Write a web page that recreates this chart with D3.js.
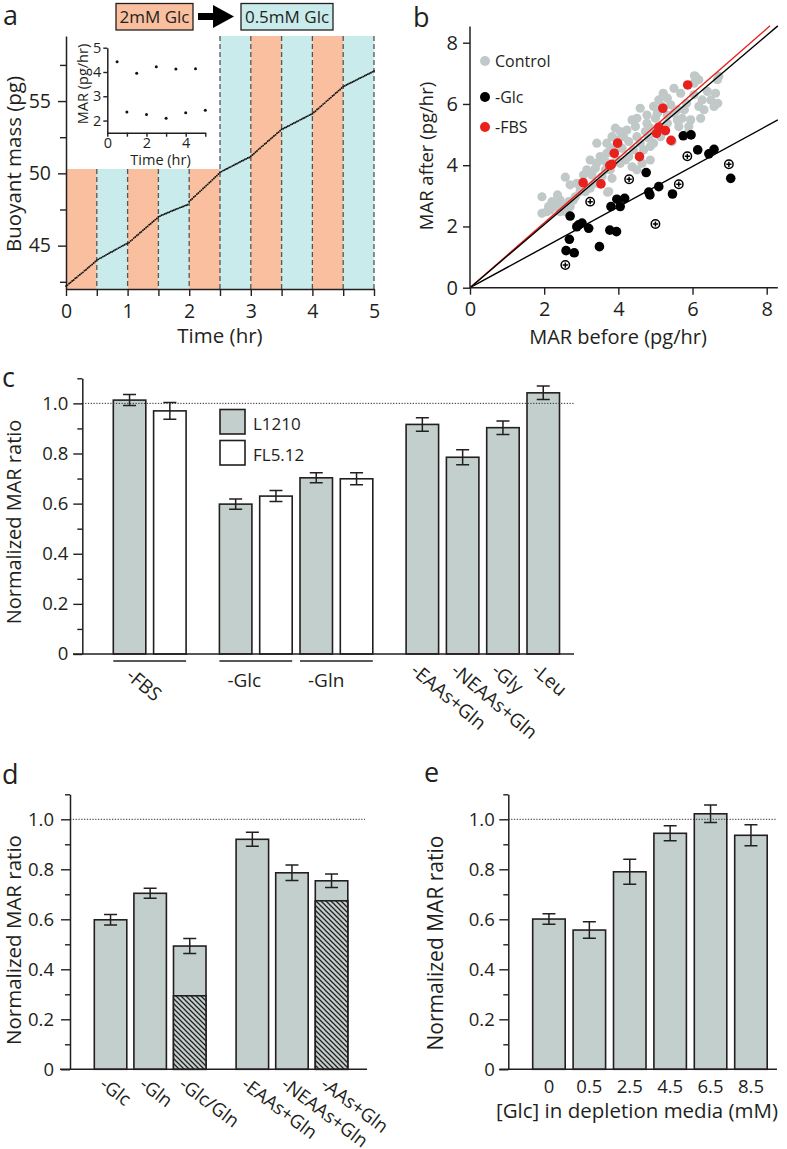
<!DOCTYPE html>
<html>
<head>
<meta charset="utf-8">
<script src="https://cdn.jsdelivr.net/npm/d3@7/dist/d3.min.js"></script>
<style>
html,body{margin:0;padding:0;background:#fff;}
svg{display:block;}
text{font-family:"Open Sans",sans-serif;fill:#231f20;}
</style>
</head>
<body>
<svg id="fig" width="787" height="1149"></svg>
<script>
// ================= DATA =================
// ---- panel a ----
const segmentEdges = [0,0.5,1,1.5,2,2.5,3,3.5,4,4.5,5];
const segmentMedia = ["2mM Glc","0.5mM Glc","2mM Glc","0.5mM Glc","2mM Glc","0.5mM Glc","2mM Glc","0.5mM Glc","2mM Glc","0.5mM Glc"];
const massSampleStep = 0.025; // hr between buoyant-mass samples
const buoyantMass = [
 42.20,42.27,42.38,42.45,42.55,42.62,42.74,42.80,42.91,42.99,43.08,43.15,43.27,43.33,43.44,43.52,43.62,43.70,43.80,43.90,
 44.00,44.05,44.12,44.17,44.24,44.29,44.36,44.41,44.47,44.54,44.58,44.65,44.71,44.76,44.83,44.88,44.95,45.00,45.06,45.12,
 45.15,45.22,45.33,45.40,45.52,45.60,45.70,45.77,45.89,45.96,46.07,46.15,46.25,46.33,46.44,46.51,46.62,46.70,46.80,46.88,
 47.00,47.04,47.10,47.13,47.19,47.22,47.28,47.31,47.37,47.41,47.45,47.50,47.54,47.58,47.63,47.66,47.71,47.75,47.79,47.83,
 48.05,48.16,48.24,48.36,48.44,48.56,48.64,48.75,48.84,48.95,49.04,49.15,49.24,49.35,49.44,49.55,49.64,49.75,49.84,49.95,
 50.08,50.12,50.19,50.23,50.30,50.34,50.41,50.45,50.52,50.56,50.63,50.67,50.74,50.78,50.85,50.89,50.96,51.00,51.06,51.10,
 51.18,51.27,51.36,51.46,51.55,51.66,51.74,51.85,51.92,52.03,52.10,52.22,52.29,52.40,52.48,52.58,52.66,52.77,52.84,52.95,
 53.04,53.08,53.15,53.19,53.26,53.30,53.37,53.41,53.48,53.52,53.59,53.63,53.70,53.74,53.81,53.85,53.92,53.96,54.03,54.07,
 54.12,54.23,54.30,54.42,54.49,54.60,54.68,54.79,54.86,54.98,55.05,55.16,55.24,55.35,55.42,55.54,55.61,55.72,55.80,55.90,
 56.00,56.05,56.11,56.16,56.22,56.27,56.32,56.37,56.43,56.48,56.54,56.59,56.64,56.69,56.75,56.80,56.86,56.91,56.96,57.02,57.08
];
const aXTickMarks = [0,0.5,1,1.5,2,2.5,3,3.5,4,4.5,5];
const aXTickLabels = [0,1,2,3,4,5];
const aYTickMarks = [42.5,45,47.5,50,52.5,55,57.5];
const aYTickLabels = [45,50,55];
const insetTime = [0.5,1,1.5,2,2.5,3,3.5,4,4.5,5];
const insetMAR  = [4.42,2.35,3.95,2.25,4.22,2.10,4.12,2.32,4.13,2.42];
const insetXTicks = [0,1,2,3,4,5];
const insetXTickLabels = [0,2,4];
const insetYTicks = [2,3,4,5];

// ---- panel b ----
const controlPts = [
 [1.94,2.97],[1.94,2.43],[2.12,2.65],[2.21,2.81],[2.36,3.03],[2.43,2.86],[2.52,2.65],[2.59,2.48],[2.66,2.81],[2.84,2.97],
 [2.97,3.14],[2.57,3.61],[2.70,3.36],[2.88,3.41],[3.06,3.68],[3.15,3.85],[3.29,3.68],[3.38,3.90],[3.42,4.06],[3.24,4.17],
 [3.51,4.28],[3.65,4.12],[3.69,4.39],[3.74,3.14],[3.83,3.57],[3.87,4.55],[3.96,4.83],[3.92,5.21],[4.05,5.10],[4.14,4.93],
 [4.23,5.15],[4.28,4.77],[4.37,5.48],[4.46,5.26],[4.50,4.93],[4.59,4.72],[4.68,4.50],[4.73,5.10],[4.77,5.37],[4.82,4.88],
 [4.86,4.61],[4.95,4.72],[5.00,5.53],[5.05,5.70],[5.18,5.92],[5.32,6.19],[5.21,6.35],[5.41,5.97],[5.50,5.70],[5.59,5.81],
 [5.63,5.26],[5.72,5.53],[5.78,5.81],[5.84,6.02],[6.04,6.30],[6.08,6.90],[6.17,5.92],[6.26,6.13],[6.31,5.81],[6.40,6.41],
 [6.49,6.13],[6.58,5.92],[6.62,6.35],[6.71,6.90],[6.68,6.02],[5.95,5.48],[5.86,5.04],[5.32,5.37],[5.14,4.93],[5.45,4.77],
 [5.59,5.48],[4.28,4.28],[4.19,4.17],[4.05,4.06],[4.37,3.95],[4.50,3.85],[4.64,4.06],[4.41,4.50],[3.78,3.85],[3.65,3.85],
 [3.56,3.63],[3.38,3.41],[3.24,3.25],[3.11,3.14],[2.97,3.30],[2.79,2.86],[2.70,2.65],[2.43,2.48],[2.16,2.54],[2.07,2.48],
 [2.30,2.65],[3.42,4.72],[3.69,4.72],[4.10,4.55],[4.77,5.64],[4.95,5.92],[5.09,6.13],[4.86,5.21],[4.50,5.53],[4.59,5.86],
 [6.04,6.68],[6.17,6.79],[5.68,6.35],[5.50,6.51],[5.32,5.64],[5.90,5.26],[6.22,5.53],[5.14,5.26],[3.96,4.17],[3.83,4.93],
 [3.78,4.50],[6.67,6.79],[6.05,6.92],[4.86,4.17],[3.71,3.12]
];
const glcPts = [
 [2.59,1.21],[2.81,1.14],[2.68,1.58],[2.70,2.34],[2.93,2.05],[3.02,2.11],[2.88,1.99],[3.20,1.94],[3.49,1.34],[3.77,1.88],
 [3.95,1.83],[3.80,2.65],[4.05,2.65],[3.96,2.89],[4.17,2.92],[4.75,3.76],[4.85,3.03],[4.82,3.12],[5.09,3.30],[5.46,3.06],
 [5.75,4.96],[5.96,4.99],[6.14,4.50],[6.44,4.37],[6.58,4.52],[7.03,3.57]
];
const glcCrossPts = [[2.57,0.74],[3.24,2.81],[4.29,3.54],[5.00,2.08],[5.63,3.38],[5.86,4.29],[6.98,4.03]];
const fbsPts = [
 [3.05,3.43],[3.53,3.39],[3.77,3.99],[3.82,4.03],[3.89,4.39],[3.98,4.72],[4.57,4.28],[5.03,5.04],[5.09,5.24],[5.27,5.13],
 [5.42,4.81],[5.20,5.86],[5.87,6.62]
];
const fitControlSlope = 1.03;
const fitFbsSlope = 1.057;
const fitGlcSlope = 0.66;
const bTicks = [0,2,4,6,8];
const bLegend = ["Control","-Glc","-FBS"];

// ---- panel c ----
const cCategories = ["-FBS","-Glc","-Gln","-EAAs+Gln","-NEAAs+Gln","-Gly","-Leu"];
const cGroupOf    = [0,1,1,2,2,2,2];
const cL1210      = [1.013,0.598,0.703,0.916,0.785,0.903,1.042];
const cL1210Err   = [0.022,0.020,0.020,0.027,0.030,0.027,0.027];
const cFL512      = [0.970,0.630,0.699,null,null,null,null];
const cFL512Err   = [0.033,0.022,0.024,null,null,null,null];
const cSeriesNames = ["L1210","FL5.12"];

// ---- panel d ----
const dCategories = ["-Glc","-Gln","-Glc/Gln","-EAAs+Gln","-NEAAs+Gln","-AAs+Gln"];
const dGroupOf    = [0,0,0,1,1,1];
const dValues     = [0.598,0.704,0.493,0.920,0.786,0.754];
const dErr        = [0.021,0.020,0.030,0.028,0.031,0.027];
const dHatched    = [null,null,0.294,null,null,0.674];

// ---- panel e ----
const eCategories = ["0","0.5","2.5","4.5","6.5","8.5"];
const eValues     = [0.601,0.557,0.790,0.944,1.022,0.936];
const eErr        = [0.021,0.033,0.050,0.030,0.035,0.042];

const ratioMajorTicks = [0,0.2,0.4,0.6,0.8,1.0];
const ratioMinorTicks = [0.1,0.3,0.5,0.7,0.9,1.1];

// ================= DRAWING =================
const svg = d3.select("#fig");
const INK = "#231f20";
const PEACH = "#F9BF9F", AQUA = "#C9EBEB";
const BAR_GRAY = "#C3CFCD";
const GRAY_PT = "#C0C9C7";
const RED = "#E8211D";
const FONT = '"Open Sans", sans-serif';

const defs = svg.append("defs");
const pat = defs.append("pattern").attr("id","hatch").attr("patternUnits","userSpaceOnUse")
  .attr("width",5).attr("height",5);
pat.append("rect").attr("width",5).attr("height",5).attr("fill",BAR_GRAY);
pat.append("path").attr("d","M-1,-1L6,6M-1,4L1,6M4,-1L6,1").attr("stroke",INK).attr("stroke-width",1.25);

function txt(g, x, y, s, size, anchor){
  return g.append("text").attr("x",x).attr("y",y).attr("font-size",size)
    .attr("text-anchor",anchor||"start").text(s);
}
function vtxt(g, x, y, s, size){
  return g.append("text").attr("transform",`translate(${x},${y}) rotate(-90)`)
    .attr("font-size",size).attr("text-anchor","middle").text(s);
}
function styleAxis(sel, size){
  sel.attr("font-family",FONT).attr("font-size",size).attr("color",INK);
  sel.selectAll(".domain").attr("stroke-width",1.5);
  sel.selectAll(".tick line").attr("stroke-width",1.4);
  sel.selectAll(".tick text").attr("fill",INK);
  return sel;
}

// ---------- Panel a ----------
(function(){
  const g = svg.append("g");
  const ax = d3.scaleLinear().domain([0,5]).range([66,374]);
  const ay = d3.scaleLinear().domain([42,59.5]).range([289,36]);
  const insetClearMass = 50.3, insetClearUntil = 2.5;
  segmentMedia.forEach((m,i)=>{
    const t0 = segmentEdges[i], t1 = segmentEdges[i+1];
    const top = t1 <= insetClearUntil ? ay(insetClearMass) : ay.range()[1];
    g.append("rect").attr("x",ax(t0)).attr("width",ax(t1)-ax(t0))
      .attr("y",top).attr("height",ay.range()[0]-top)
      .attr("fill", m==="2mM Glc" ? PEACH : AQUA);
  });
  segmentEdges.slice(1).forEach(t=>{
    const top = t < insetClearUntil ? ay(insetClearMass) : ay.range()[1];
    g.append("line").attr("x1",ax(t)).attr("x2",ax(t)).attr("y1",top).attr("y2",ay.range()[0])
      .attr("stroke","#555").attr("stroke-width",1.3).attr("stroke-dasharray","5,3");
  });
  g.selectAll("circle.mass").data(buoyantMass).join("circle").attr("class","mass")
    .attr("cx",(d,i)=>ax(i*massSampleStep)).attr("cy",d=>ay(d)).attr("r",0.95).attr("fill","#111");

  const xa = g.append("g").attr("transform",`translate(0,${ay.range()[0]})`)
    .call(d3.axisBottom(ax).tickValues(aXTickMarks).tickSize(7).tickSizeOuter(0).tickPadding(8)
      .tickFormat(d=>aXTickLabels.includes(d)?d:""));
  styleAxis(xa,19.5);
  const ya = g.append("g").attr("transform",`translate(${ax(0)},0)`)
    .call(d3.axisLeft(ay).tickValues(aYTickMarks).tickSize(8).tickSizeOuter(0).tickPadding(7)
      .tickFormat(d=>aYTickLabels.includes(d)?d:""));
  styleAxis(ya,19.5);
  ya.selectAll(".tick").filter(d=>!aYTickLabels.includes(d)).select("line").attr("x2",-6);

  txt(g,220,343,"Time (hr)",20.5,"middle");
  vtxt(g,21,164,"Buoyant mass (pg)",20.5);
  txt(g,3,25,"a",27);

  // inset
  const ix = d3.scaleLinear().domain([0,5]).range([107.3,205.3]);
  const iy = d3.scaleLinear().domain([1.5,5]).range([132.7,47.7]);
  const ixa = g.append("g").attr("transform",`translate(0,${iy.range()[0]})`)
    .call(d3.axisBottom(ix).tickValues(insetXTicks).tickSize(4).tickSizeOuter(0).tickPadding(1)
      .tickFormat(d=>insetXTickLabels.includes(d)?d3.format("d")(d):""));
  styleAxis(ixa,14.5);
  const iya = g.append("g").attr("transform",`translate(${ix(0)},0)`)
    .call(d3.axisLeft(iy).tickValues(insetYTicks).tickSize(4).tickSizeOuter(0).tickPadding(2)
      .tickFormat(d3.format("d")));
  styleAxis(iya,14.5);
  g.selectAll("circle.ins").data(insetMAR).join("circle").attr("class","ins")
    .attr("cx",(d,i)=>ix(insetTime[i])).attr("cy",d=>iy(d)).attr("r",1.5).attr("fill","#111");
  txt(g,160.5,165,"Time (hr)",14.5,"middle");
  vtxt(g,88,84,"MAR (pg/hr)",14.5);

  // header
  const hdr = [{label:segmentMedia[0],x0:116,x1:193,fill:PEACH},{label:segmentMedia[1],x0:241,x1:333,fill:AQUA}];
  hdr.forEach(h=>{
    g.append("rect").attr("x",h.x0).attr("y",3.5).attr("width",h.x1-h.x0).attr("height",26.5)
      .attr("fill",h.fill).attr("stroke",INK).attr("stroke-width",1.3);
    txt(g,(h.x0+h.x1)/2,23,h.label,17,"middle");
  });
  g.append("rect").attr("x",198).attr("y",13).attr("width",17).attr("height",7).attr("fill","#000");
  g.append("path").attr("d","M213,5L234,16.5L213,28Z").attr("fill","#000");
})();

// ---------- Panel b ----------
(function(){
  const g = svg.append("g");
  const bx = d3.scaleLinear().domain([0,8]).range([470,766.7]);
  const by = d3.scaleLinear().domain([0,8]).range([287.7,42.7]);
  const xEnd = 8.3, yEnd = 8.53;

  g.selectAll("circle.ctl").data(controlPts).join("circle").attr("class","ctl")
    .attr("cx",d=>bx(d[0])).attr("cy",d=>by(d[1])).attr("r",4.6).attr("fill",GRAY_PT);

  const line = d3.line().x(d=>bx(d[0])).y(d=>by(d[1]));
  g.append("path").attr("d",line([[0,0],[xEnd,fitGlcSlope*xEnd]])).attr("stroke","#000").attr("stroke-width",1.4).attr("fill","none");
  g.append("path").attr("d",line([[0,0],[yEnd/fitFbsSlope+0.02,fitFbsSlope*(yEnd/fitFbsSlope+0.02)]])).attr("stroke",RED).attr("stroke-width",1.4).attr("fill","none");
  g.append("path").attr("d",line([[0,0],[xEnd,fitControlSlope*xEnd]])).attr("stroke","#000").attr("stroke-width",1.4).attr("fill","none");

  g.selectAll("circle.glc").data(glcPts).join("circle").attr("class","glc")
    .attr("cx",d=>bx(d[0])).attr("cy",d=>by(d[1])).attr("r",4.8).attr("fill","#000");
  g.selectAll("circle.fbs").data(fbsPts).join("circle").attr("class","fbs")
    .attr("cx",d=>bx(d[0])).attr("cy",d=>by(d[1])).attr("r",4.8).attr("fill",RED);
  const cr = g.selectAll("g.cross").data(glcCrossPts).join("g").attr("class","cross")
    .attr("transform",d=>`translate(${bx(d[0])},${by(d[1])})`);
  cr.append("circle").attr("r",4.2).attr("fill","#fff").attr("stroke","#000").attr("stroke-width",1.5);
  cr.append("path").attr("d","M-2.6,0H2.6M0,-2.6V2.6").attr("stroke","#000").attr("stroke-width",1.5);

  // axes
  g.append("line").attr("x1",bx(0)).attr("x2",bx(xEnd)).attr("y1",by(0)).attr("y2",by(0)).attr("stroke",INK).attr("stroke-width",1.5);
  g.append("line").attr("x1",bx(0)).attr("x2",bx(0)).attr("y1",by(0)).attr("y2",by(yEnd)).attr("stroke",INK).attr("stroke-width",1.5);
  const xa = g.append("g").attr("transform",`translate(0,${by(0)})`)
    .call(d3.axisBottom(bx).tickValues(bTicks).tickSize(7).tickSizeOuter(0).tickPadding(7));
  styleAxis(xa,20); xa.select(".domain").remove();
  const ya = g.append("g").attr("transform",`translate(${bx(0)},0)`)
    .call(d3.axisLeft(by).tickValues(bTicks).tickSize(7).tickSizeOuter(0).tickPadding(5));
  styleAxis(ya,20); ya.select(".domain").remove();

  txt(g,618,344,"MAR before (pg/hr)",20,"middle");
  vtxt(g,433,156,"MAR after (pg/hr)",18.5);
  txt(g,413,27,"b",27);

  const legColors = [GRAY_PT,"#000",RED];
  const legY = [61,97,127];
  bLegend.forEach((s,i)=>{
    g.append("circle").attr("cx",485).attr("cy",legY[i]).attr("r",5).attr("fill",legColors[i]);
    txt(g,495,legY[i]+6,s,16);
  });
})();

// ---------- bar panel helper ----------
function barPanel(cfg){
  const g = svg.append("g");
  const y = d3.scaleLinear().domain([0,1.1]).range([cfg.y0,cfg.yTop]);
  cfg.bars.forEach(b=>{
    g.append("rect").attr("x",b.x).attr("y",y(b.v)).attr("width",cfg.barW).attr("height",y(0)-y(b.v))
      .attr("fill",b.fill).attr("stroke",INK).attr("stroke-width",1.6);
    if(b.hatch!=null){
      g.append("rect").attr("x",b.x).attr("y",y(b.hatch)).attr("width",cfg.barW).attr("height",y(0)-y(b.hatch))
        .attr("fill","url(#hatch)").attr("stroke",INK).attr("stroke-width",1.6);
    }
    const cx = b.x+cfg.barW/2;
    g.append("path").attr("d",`M${cx},${y(b.v+b.e)}V${y(b.v-b.e)}M${cx-6.5},${y(b.v+b.e)}H${cx+6.5}M${cx-6.5},${y(b.v-b.e)}H${cx+6.5}`)
      .attr("stroke",INK).attr("stroke-width",1.5).attr("fill","none");
  });
  g.append("line").attr("x1",cfg.axisX).attr("x2",cfg.refRight).attr("y1",y(1)).attr("y2",y(1))
    .attr("stroke","#333").attr("stroke-width",1).attr("stroke-dasharray","1.3,1.5");
  g.append("line").attr("x1",cfg.xLeft).attr("x2",cfg.xRight).attr("y1",y(0)).attr("y2",y(0))
    .attr("stroke",INK).attr("stroke-width",1.6);
  const ya = g.append("g").attr("transform",`translate(${cfg.axisX},0)`)
    .call(d3.axisLeft(y).tickValues(ratioMajorTicks).tickSize(9).tickSizeOuter(0).tickPadding(cfg.pad)
      .tickFormat(d=>d===0?"0":d3.format(".1f")(d)));
  styleAxis(ya,18.5);
  const ym = g.append("g").attr("transform",`translate(${cfg.axisX},0)`)
    .call(d3.axisLeft(y).tickValues(ratioMinorTicks).tickSize(5).tickSizeOuter(0).tickFormat(""));
  styleAxis(ym,18.5); ym.select(".domain").remove();
  vtxt(g,cfg.titleX,cfg.titleY,"Normalized MAR ratio",cfg.titleSize);
  return {g,y};
}
function rotLabel(g,x,y,s,size,angle){
  g.append("text").attr("transform",`translate(${x},${y}) rotate(${angle||40})`).attr("dy","0.72em")
    .attr("font-size",size).text(s);
}

// ---------- Panel c ----------
(function(){
  const x0 = 113.3, slotW = 40.3, gapW = 25.5, barW = 32.5;
  const bars = []; const catBars = [];
  let slot = 0;
  cCategories.forEach((c,i)=>{
    const list = [];
    [[cL1210,cL1210Err,BAR_GRAY],[cFL512,cFL512Err,"#fff"]].forEach(([v,e,f])=>{
      if(v[i]!=null){
        const b = {x:x0+slot*slotW+cGroupOf[i]*gapW, v:v[i], e:e[i], fill:f};
        bars.push(b); list.push(b); slot++;
      }
    });
    catBars.push(list);
  });
  const {g,y} = barPanel({bars,barW,y0:654,yTop:378.3,axisX:82.3,xLeft:73,xRight:574,refRight:575,pad:5,
    titleX:20.5,titleY:522,titleSize:20});
  txt(g,2,387,"c",27);
  const horizontal = ["-Glc","-Gln"];
  cCategories.forEach((c,i)=>{
    const list = catBars[i];
    const left = list[0].x, right = list[list.length-1].x+barW;
    if(list.length>1){
      g.append("line").attr("x1",left).attr("x2",right).attr("y1",661).attr("y2",661).attr("stroke",INK).attr("stroke-width",1.5);
    }
    if(horizontal.includes(c)){
      txt(g,left+8,687,c,19);
    } else if(list.length>1){
      rotLabel(g,(left+right)/2-16,667,c,19);
    } else {
      rotLabel(g,left+barW/2-4,662,c,19);
    }
  });
  // legend
  const legFill = [BAR_GRAY,"#fff"], legY=[409.5,440.5];
  cSeriesNames.forEach((s,i)=>{
    g.append("rect").attr("x",220).attr("y",legY[i]).attr("width",25).attr("height",24.5)
      .attr("fill",legFill[i]).attr("stroke",INK).attr("stroke-width",1.6);
    txt(g,253,legY[i]+20,s,17);
  });
})();

// ---------- Panel d ----------
(function(){
  const x0 = 94.3, slotW = 39.6, gapW = 23, barW = 32.5;
  const bars = dCategories.map((c,i)=>({x:x0+i*slotW+dGroupOf[i]*gapW, v:dValues[i], e:dErr[i], fill:BAR_GRAY, hatch:dHatched[i]}));
  const {g} = barPanel({bars,barW,y0:1069.3,yTop:794.3,axisX:70,xLeft:60,xRight:367,refRight:365,pad:7,
    titleX:20.5,titleY:940,titleSize:20.5});
  txt(g,2,784,"d",27);
  dCategories.forEach((c,i)=> rotLabel(g,bars[i].x+barW/2-4,1076,c,18.5,37));
})();

// ---------- Panel e ----------
(function(){
  const x0 = 532.7, slotW = 40.4, barW = 32.5;
  const bars = eCategories.map((c,i)=>({x:x0+i*slotW, v:eValues[i], e:eErr[i], fill:BAR_GRAY}));
  const {g} = barPanel({bars,barW,y0:1069.3,yTop:794.3,axisX:508.3,xLeft:499.3,xRight:777,refRight:777,pad:4.5,
    titleX:443,titleY:943,titleSize:21});
  txt(g,424,782,"e",27);
  eCategories.forEach((c,i)=> txt(g,bars[i].x+barW/2,1092.5,c,18.5,"middle"));
  txt(g,637,1117.5,"[Glc] in depletion media (mM)",20.5,"middle");
})();
</script>
</body>
</html>
